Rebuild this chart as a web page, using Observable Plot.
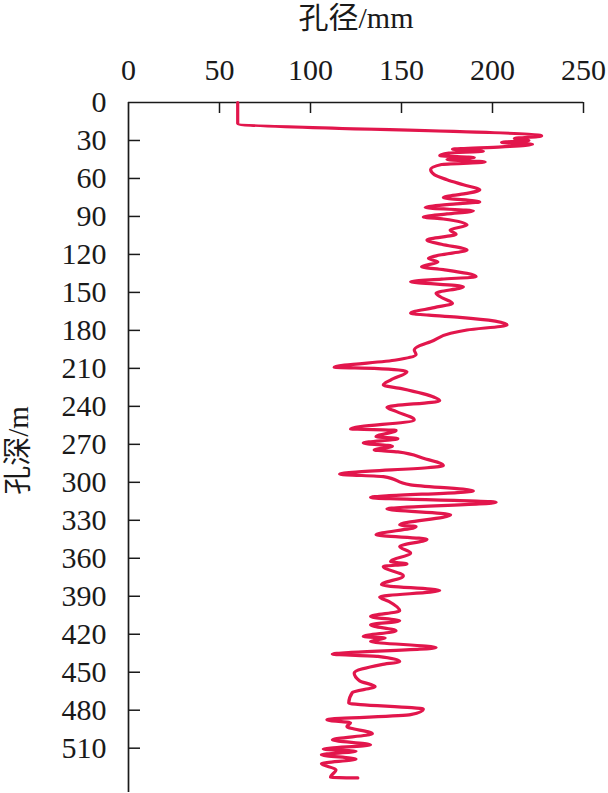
<!DOCTYPE html>
<html>
<head>
<meta charset="utf-8">
<script src="https://cdn.jsdelivr.net/npm/d3@7"></script>
<script src="https://cdn.jsdelivr.net/npm/@observablehq/plot@0.6"></script>
<style>
  html, body { margin: 0; padding: 0; background: #fff; }
  #chart svg { display: block; }
  #chart svg, #chart svg text { font-family: 'Liberation Serif', 'Times New Roman', 'Noto Sans CJK SC', serif !important; }
</style>
</head>
<body>
<div id="chart"></div>
<script>
// Depth (m) down the hole, and hole diameter (mm)
const depth = [0,16.6,26.4,28.5,30,31.5,33,35,37,38.5,40,42,43.5,45,47,49,53,57,61,65,69,72,75,78.5,80,83,85.6,88,90.5,92,96.8,100.7,104,108.6,112,116.5,120.5,123.1,126,129.7,132,137.6,139.5,141.5,145.5,150.7,154,158.6,162,166.5,168,169.7,175.7,179.7,182.3,188.9,192,195.5,199,203.4,209.2,210,212.6,219.2,223.1,226,232.8,235.5,240.7,244,250.7,257.8,259,264,265.5,269,271.5,274.4,276,281,286.8,293.6,295.5,302,306.8,312,315.7,321,325.7,333.6,335,341.5,345,350.7,355.8,362.6,364.5,366.5,373.9,381,385.5,390.5,394,401.5,406,409.4,412.6,417.3,421.8,423,425.7,430.5,435.7,437.5,441.5,444,450.7,456.8,461.3,466,474.4,479.2,483.5,487.6,490,492.8,498.6,503.4,507.3,510.7,512.5,515.2,518.6,522.3,527,533,533.5];
const diameter = [60,60,227,212,220,205,222,205,178,195,176,171,190,175,196,172,166,168,175,184,193,185,173,193,180,163,189.5,175,162,173,186,176.7,180,164,172,186,171,164.8,170,161,173,191,172,155,184,169,172,178,168,155,165,182,208,186,177,166,160,157,158,147,113,135,153,144,140,150,168,171,142,147,157,122,147,136,148,129,145,135,148,162,173,116,140,155,189.5,133,202,142,177,149,158,136,164,149,155,144,153,140,151,139,171,138,143,149,133,149,133,147,129,141,133,169,112,137,149,139,124,127,135.5,123,121,162,155,109,122,120,134,112,133,107,125,106,125,106,114,111,126];

const xTicks = [0, 50, 100, 150, 200, 250];
const yTicks = [0, 30, 60, 90, 120, 150, 180, 210, 240, 270, 300, 330, 360, 390, 420, 450, 480, 510];
const xLabel = ["孔径/mm"];
const yLabel = ["孔深/m"];

const data = depth.map((d, i) => ({depth: d, diameter: diameter[i]}));

const font = "'Liberation Serif', 'Times New Roman', 'Noto Sans CJK SC', serif";
const ink = "#1a1a1a";

const chart = Plot.plot({
  width: 608,
  height: 793,
  marginLeft: 128,
  marginRight: 25,
  marginTop: 102,
  marginBottom: 1,
  style: {background: "#fff", color: ink},
  x: {domain: [0, 250]},
  y: {domain: [0, 545], reverse: true},
  marks: [
    // axis lines
    Plot.ruleY([0], {stroke: ink, strokeWidth: 1.7}),
    Plot.ruleX([0], {stroke: ink, strokeWidth: 1.7}),
    // inward ticks
    Plot.ruleX(xTicks.filter(d => d > 0), {x: d => d, y1: 0, y2: 0, insetBottom: -11, stroke: ink, strokeWidth: 1.5}),
    Plot.ruleY(yTicks.filter(d => d > 0), {y: d => d, x1: 0, x2: 0, insetRight: -12, stroke: ink, strokeWidth: 1.5}),
    // tick labels
    Plot.axisX({anchor: "top", ticks: xTicks, tickSize: 0, tickPadding: 23, fontSize: 30, fontFamily: font, fill: ink, tickFormat: d => String(d), label: null}),
    Plot.axisY({anchor: "left", ticks: yTicks, tickSize: 0, tickPadding: 22, fontSize: 30, fontFamily: font, fill: ink, tickFormat: d => String(d), label: null}),
    // axis titles
    Plot.text(xLabel, {text: d => d, frameAnchor: "top", dy: -84, fontSize: 30, fontFamily: font, fill: ink, lineAnchor: "middle", textAnchor: "middle"}),
    Plot.text(yLabel, {text: d => d, frameAnchor: "left", dx: -110, dy: 3, rotate: -90, fontSize: 29, fontFamily: font, fill: ink, lineAnchor: "middle", textAnchor: "middle"}),
    // data
    Plot.line(data, {x: "diameter", y: "depth", stroke: "#e2164c", strokeWidth: 3.2, curve: "monotone-y", strokeLinejoin: "round", strokeLinecap: "round"})
  ]
});
document.getElementById("chart").appendChild(chart);
</script>
</body>
</html>
